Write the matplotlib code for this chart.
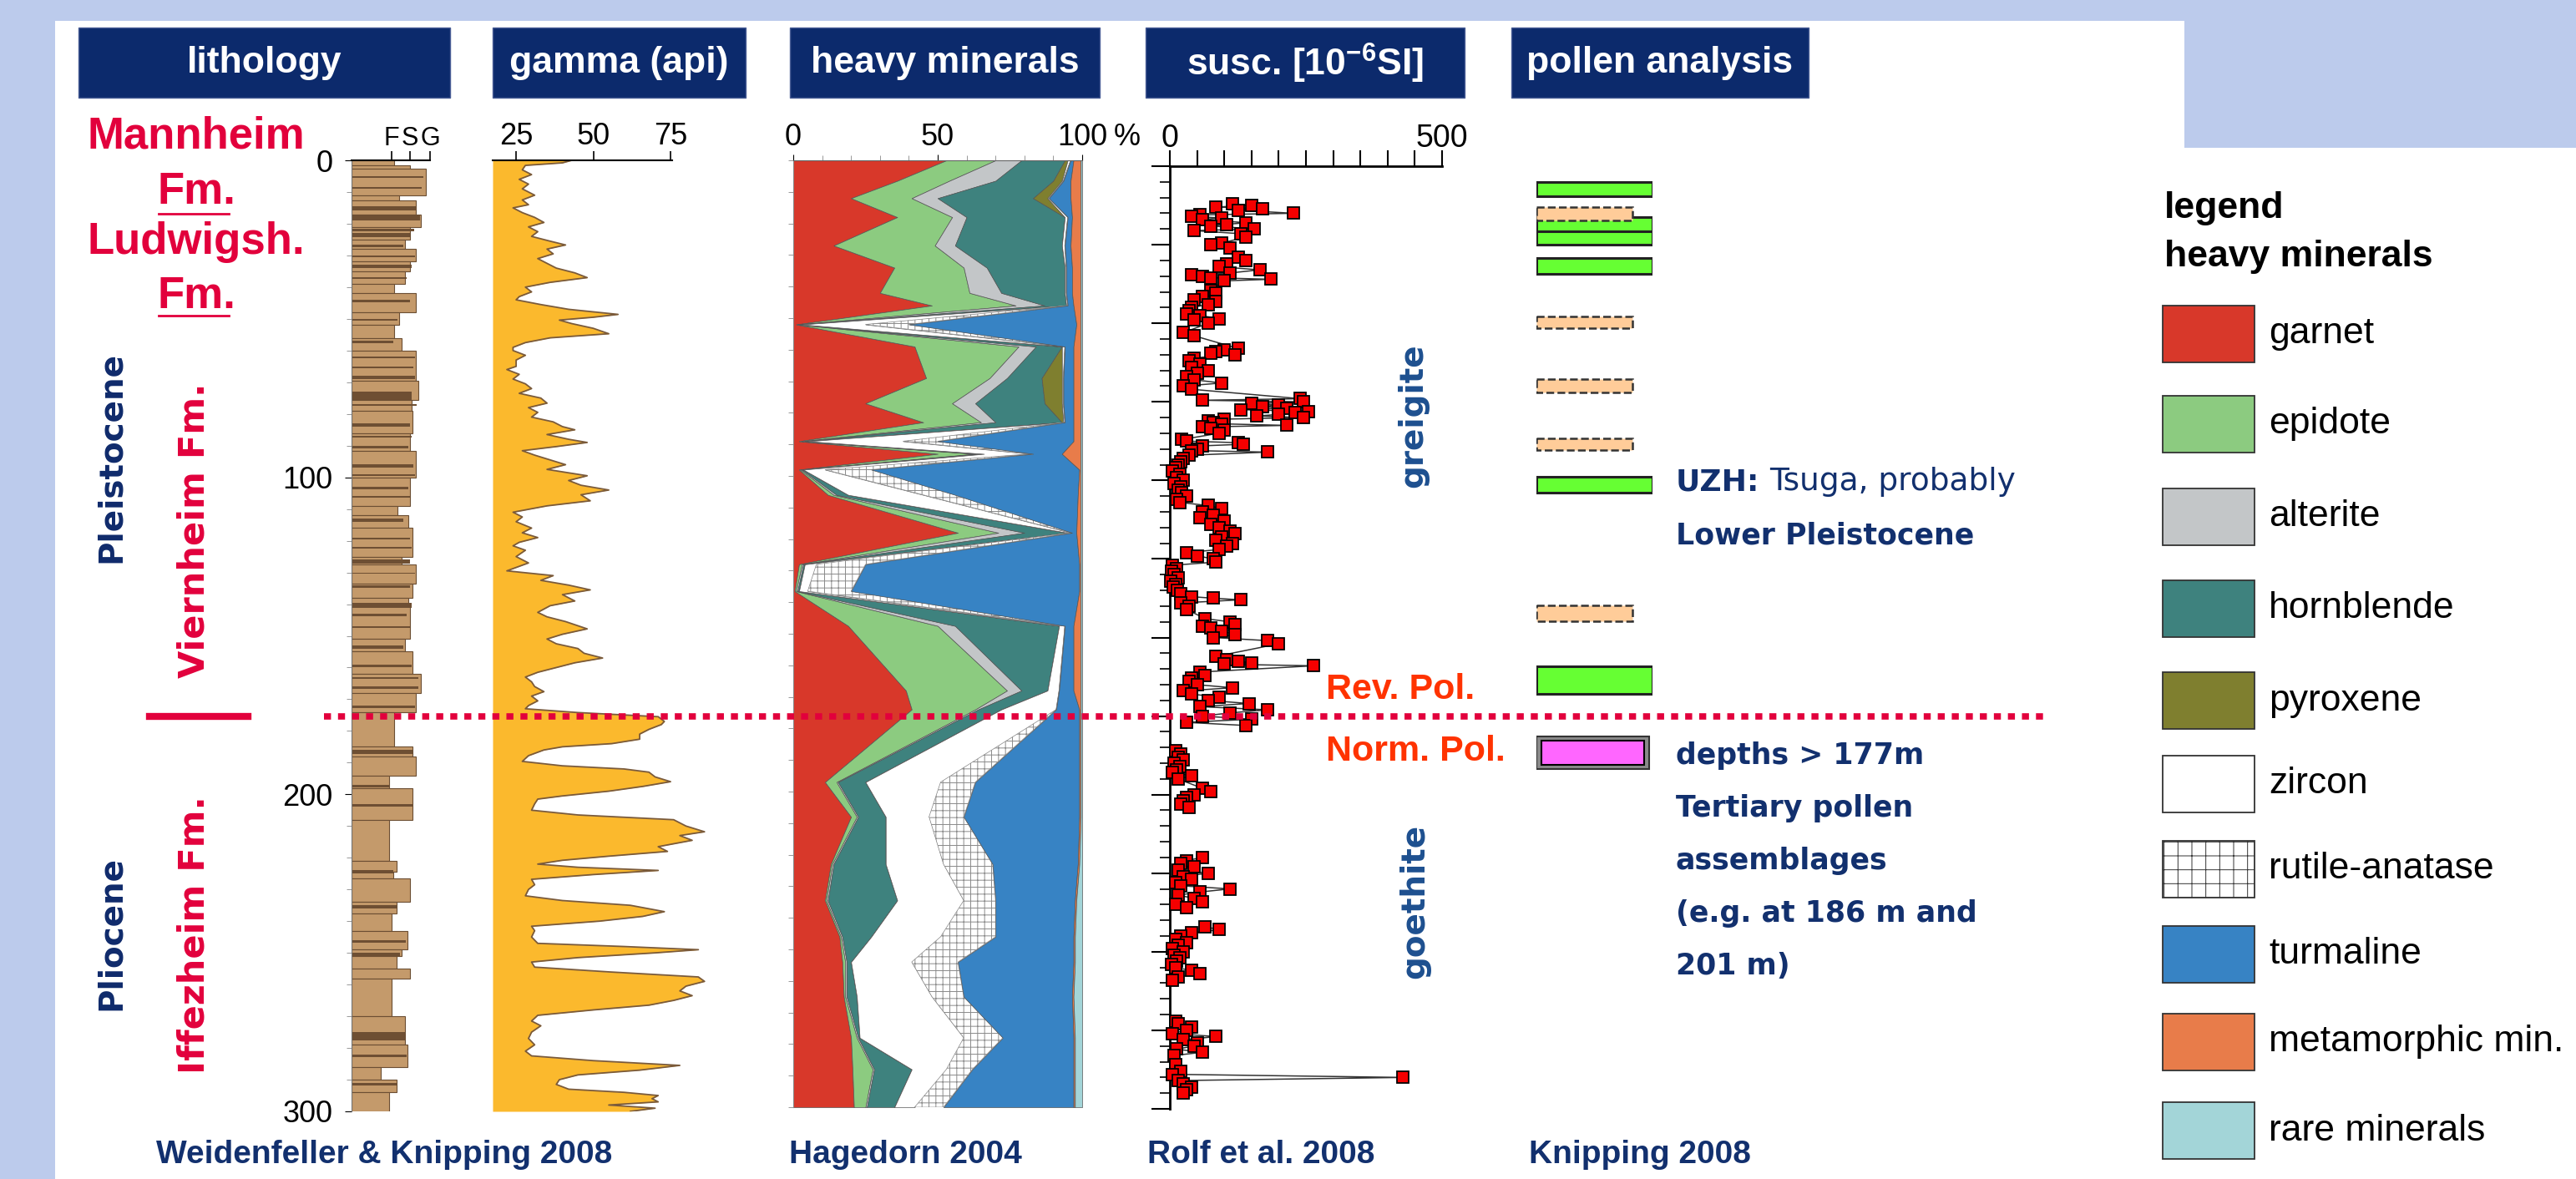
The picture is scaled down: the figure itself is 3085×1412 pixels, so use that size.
import numpy as np
import matplotlib.pyplot as plt
from matplotlib.patches import Polygon, Rectangle
from matplotlib import font_manager

plt.rcParams['font.family'] = ['Liberation Sans', 'DejaVu Sans']
plt.rcParams['mathtext.fontset'] = 'custom'
plt.rcParams['mathtext.rm'] = 'Liberation Sans'
plt.rcParams['mathtext.bf'] = 'Liberation Sans:bold'
plt.rcParams['hatch.linewidth'] = 0.7

avail = {f.name for f in font_manager.fontManager.ttflist}
HAS_NARROW = 'Liberation Sans Narrow' in avail
NARROW = 'Liberation Sans Narrow' if HAS_NARROW else 'Liberation Sans'
TICK_SIZE = 31 if HAS_NARROW else 26

## ---------------- data ----------------
## lithology: layer tops (m) and grain size width (0 clay .. 48 F, 70 S, 94 G)
lith_top = [0, 1.6, 2.6, 11, 12.6, 17, 21, 25, 28, 32, 35, 39, 42, 48, 52, 56, 60, 69.5, 75.6, 79,
            86, 91.6, 100, 109, 112, 116, 125, 127.5, 133.5, 138, 140.6, 151, 155, 162, 168, 174, 185,
            188, 194, 198, 208, 221, 224.5, 226.5, 234, 237.7, 243, 249, 251, 255, 258, 270, 279, 286,
            290, 294]
lith_width = [51, 70, 89, 57, 77, 83, 70, 64, 77, 70, 64, 51, 77, 57, 51, 60, 77, 80, 72, 73,
              70, 77, 70, 55, 68, 73, 60, 77, 73, 68, 70, 64, 73, 83, 77, 51, 73,
              77, 45, 73, 45, 54, 50, 70, 54, 48, 67, 60, 54, 70, 48, 64, 67, 35,
              54, 45]
## thin silt/clay beds drawn darker
clay_top = [5, 8.5, 14.5, 17.5, 21.5, 23, 26.5, 30, 33, 37, 44, 50, 57, 62, 65, 68, 73, 77, 83, 87,
            90, 96, 99, 103, 106, 113, 119, 122, 126, 130, 134, 139.6, 143, 147, 153, 159, 163, 166,
            172, 186, 197, 203, 224, 235, 246, 250, 275, 282, 291]
clay_thick = [0.5, 0.5, 1.2, 1.5, 1.0, 1.2, 0.8, 0.5, 1.0, 0.5, 0.8, 0.5, 0.8, 0.5, 0.5, 1.0, 2.5, 0.5, 1.0, 0.5,
              0.8, 1.0, 0.5, 0.8, 0.5, 1.0, 0.7, 0.5, 1.2, 0.5, 0.8, 1.5, 0.7, 0.5, 1.0, 1.0, 0.5, 0.8,
              0.8, 1.2, 0.8, 0.8, 1.0, 1.0, 0.8, 1.2, 2.5, 0.8, 0.8]
clay_width = [86, 84, 78, 82, 75, 70, 62, 76, 72, 66, 70, 55, 50, 76, 74, 76, 72, 78, 70, 72,
              68, 74, 76, 68, 70, 62, 70, 72, 70, 76, 70, 72, 66, 70, 62, 72, 80, 80,
              76, 73, 45, 73, 50, 54, 65, 58, 64, 66, 54]

## gamma ray log (api)
gamma_depth = [0, 0.8, 1.6, 3, 4.5, 6, 7.5, 9, 11, 12.5, 14, 15, 16.5, 18, 19.6, 21, 22.5, 24, 25.5, 26.7,
               28, 29.5, 31, 32.5, 34, 35.5, 37, 38.5, 40, 41.5, 43, 44, 45.5, 47, 48.6, 49.5, 50.4, 51.5, 53, 54.7,
               56, 57.5, 59, 60, 61.5, 63, 65, 66, 67.5, 69, 70.5, 72, 73.5, 75, 76.6, 78, 79.5, 81, 82.5, 84,
               85, 86.5, 88, 89, 90.3, 91.6, 93, 94.5, 96, 97.5, 99.5, 101, 102.5, 104, 105.5, 107.4, 109, 111, 112.5, 114,
               116, 117.5, 119, 120.5, 121.6, 123, 125, 127, 129.5, 131, 132.5, 134, 135.5, 137, 139, 140.5, 142.6, 144, 145.5, 147.8,
               149.5, 151, 152.5, 154, 155.5, 157, 158.5, 160, 161.5, 163, 164.5, 166, 167.6, 169, 170.5, 172, 173, 174.2, 175.5, 177,
               178, 179.5, 181, 182.6, 184, 185, 186, 187.8, 189.6, 191, 192, 193, 194.5, 196, 197.5, 199, 200.5, 201.5, 203, 205,
               206.5, 208, 210, 211.8, 213, 214.5, 216.5, 218, 219.5, 220.8, 222, 223, 224, 225.3, 226.8, 228.5, 230, 232, 233.5, 235,
               237, 238.5, 240, 241.6, 243, 245, 247, 248, 249, 250, 251.5, 252.9, 254.5, 256, 257.6, 259, 260.5, 262, 263.5, 265,
               266.5, 268, 269.7, 271.5, 273, 275, 277, 279, 281, 282.5, 284, 285.5, 287, 288.5, 290, 291.5, 293, 294, 295, 296,
               297, 298, 299, 300]
gamma_api = [43, 40, 28, 27, 30, 26, 29, 27, 31, 27, 29, 24, 27, 31, 34, 29, 32, 30, 36, 41,
             35, 37, 32, 35, 38, 44, 48, 36, 28, 30, 26, 25, 33, 42, 58, 50, 39, 43, 50, 55,
             36, 28, 24, 24, 28, 25, 25, 22, 26, 24, 28, 30, 26, 33, 35, 29, 32, 30, 37, 40,
             44, 35, 42, 48, 38, 27, 31, 36, 41, 35, 48, 42, 46, 55, 46, 49, 35, 24, 27, 25,
             30, 27, 32, 26, 24, 28, 25, 29, 22, 37, 33, 42, 49, 40, 44, 36, 32, 35, 41, 48,
             40, 35, 38, 45, 47, 53, 44, 38, 32, 28, 30, 31, 34, 30, 32, 29, 28, 45, 71, 73,
             72, 68, 65, 65, 56, 40, 34, 29, 27, 40, 60, 68, 70, 75, 66, 55, 40, 32, 31, 30,
             45, 76, 80, 86, 78, 82, 71, 74, 55, 40, 32, 45, 71, 50, 30, 31, 29, 28, 40, 62,
             73, 66, 52, 30, 31, 30, 32, 60, 84, 70, 45, 30, 31, 55, 84, 86, 80, 78, 82, 76,
             68, 50, 32, 30, 33, 30, 29, 31, 28, 30, 50, 78, 65, 45, 39, 38, 42, 60, 71, 69,
             71, 55, 70, 62]

## heavy minerals (% per sample)
hm_depth = [0, 6.5, 12, 18, 27, 34, 42, 46, 52, 59, 69, 77, 83, 89, 93, 98, 106, 118, 128, 136.5,
            147.5, 168, 174, 197, 208, 223, 234.5, 246, 254, 265, 278, 288, 300]
garnet = [53, 36, 20, 36, 14, 35, 30, 48, 1, 42, 46, 25, 45, 2, 50, 2, 12, 57, 2, 0.5,
          19, 39, 41, 11, 20, 13, 11, 16, 17, 17.5, 20, 20.5, 21]
epidote = [17, 18, 21, 19, 35, 24, 31, 29, 0.5, 36, 22, 30, 20, 1, 13, 0.5, 2, 14, 1, 0.5,
           31, 35, 22, 4, 2, 0.5, 0.5, 0.5, 1, 0.5, 2, 7, 4]
alterite = [9, 16, 9, 5, 7, 8, 11, 10, 0.5, 6, 6, 8, 5, 1, 1, 0.5, 1, 9, 0.5, 0.5,
            6, 5, 1, 0.5, 0.5, 0.5, 0.5, 0.5, 0.5, 0.5, 0.5, 0.5, 0.5]
hornblende = [15, 20, 33, 34, 37, 27, 22, 7.5, 1, 9, 12, 24, 23, 1, 2, 0.5, 4, 15, 0.5, 0.5,
              36, 9, 8, 9.5, 9.5, 18, 24, 10, 1.5, 3.5, 0.5, 13, 9.5]
pyroxene = [1, 3, 5, 0, 0, 0, 0, 0, 0, 0, 7, 6, 0.5, 0, 0, 0, 0, 0, 0, 0,
            0, 0, 0, 0, 0, 0, 0, 0, 0, 0, 0, 0, 0]
zircon = [1, 0.5, 0.5, 1, 1, 0.5, 0.5, 0.5, 22, 1, 0.5, 0.5, 0.5, 33, 16, 7.5, 26, 1, 4, 3,
          2, 4, 19, 26, 15, 20, 23, 24, 21, 26, 36, 12, 7]
rutile = [0, 0, 0, 0, 0, 0, 0, 0, 15, 0, 0, 0, 0, 12, 1, 16, 11, 0.5, 17, 15,
          0, 0, 0, 12, 12, 17, 11, 19, 16, 11, 13.5, 9, 10]
turmaline = [1, 2.5, 7.5, 1.5, 2, 2, 2, 2, 58, 3, 3.5, 3.5, 3, 47, 10, 72, 42.5, 1.5, 74, 79,
             3, 5, 8, 36, 40, 29.5, 27.5, 27, 40, 37.5, 24.5, 35, 45]
metamorphic = [2.5, 3.5, 3.5, 3, 3.5, 3, 3, 2.5, 1.5, 2.5, 2.5, 2.5, 2.5, 2.5, 6.5, 0.5, 1, 1.5, 0.5, 0.5,
               2.5, 2.5, 0.5, 0.5, 0.5, 0.5, 0.5, 0.5, 0.5, 0.5, 0.5, 0.5, 0.5]
rare = [0.5, 0.5, 0.5, 0.5, 0.5, 0.5, 0.5, 0.5, 0.5, 0.5, 0.5, 0.5, 0.5, 0.5, 0.5, 0.5, 0.5, 0.5, 0.5, 0.5,
        0.5, 0.5, 0.5, 0.5, 0.5, 1, 2, 2.5, 2.5, 3, 2.5, 2.5, 2.5]

## magnetic susceptibility (10^-6 SI)
susc_depth = [12, 12.5, 13, 13.5, 14, 15, 15.5, 16, 16.5, 17, 18, 18.5, 19, 20, 20.5, 21.5, 22.5,
              24.5, 25, 26,
              29, 30, 31, 32, 33, 34, 34.5, 35, 35.5, 36, 36.5,
              39.5, 40.5, 41.5, 42.5, 43, 44, 45, 46, 47, 47.5, 48.5, 49, 50,
              53, 54,
              58, 58.5, 59, 59.5, 60, 61, 62, 63, 64, 65, 66, 67, 68, 69, 70, 71,
              74, 74.5, 75, 75.5, 76, 76.5, 77, 77.5, 78, 78.5, 79, 79.5, 80, 80.5, 81, 81.5, 82, 82.5, 83, 83.5, 84, 85,
              87, 87.5, 88, 88.5, 89, 90, 90.5, 91, 92, 93, 94, 95,
              96, 97, 98, 99, 100, 101, 102, 103, 104, 105, 106, 107,
              108, 109, 110, 111, 112, 113, 114, 115, 116, 117, 118, 119, 120, 121, 122, 123, 124, 125, 126,
              127, 128, 129, 130, 131, 132, 133, 134, 135, 136,
              137, 137.5, 138, 139, 140, 141,
              144, 145, 146, 146.5, 147, 148, 149, 150, 151, 152,
              156, 157, 157.5, 158, 158.5, 159,
              161, 162, 163, 164, 165, 166, 167, 168, 169, 170, 171, 172, 173, 174, 175, 176, 177, 178,
              186, 187, 188, 189, 190, 191, 192, 193, 194, 195,
              198, 199, 200, 201, 202, 203, 204,
              220, 221, 222, 223, 224, 225, 226, 227, 228, 229, 230, 231, 232, 233, 234, 235, 236,
              242, 243, 244, 245, 246, 247, 248, 249, 250, 251, 252, 253, 254, 255, 256, 257, 258, 259,
              272, 273, 274, 275, 276, 277, 278, 279, 280, 281, 282, 283,
              286, 288, 289, 290, 291, 292, 293, 294, 295]
susc_value = [115, 150, 85, 170, 125, 227, 55, 40, 95, 60, 140, 105, 75, 155, 45, 130, 140,
              95, 75, 110,
              125, 140, 105, 90, 165, 110, 40, 60, 75, 186, 100,
              75, 85, 60, 45, 85, 70, 40, 35, 30, 55, 90, 45, 70,
              25, 45,
              125, 100, 85, 75, 120, 45, 35, 55, 40, 70, 50, 30, 45, 95, 25, 40,
              240, 60, 245, 150, 200, 170, 215, 130, 255, 230, 200, 160, 245, 100, 70, 80, 95, 215, 60, 75, 100, 90,
              22, 30, 125, 135, 60, 50, 40, 180, 35, 25, 20, 15,
              10, 5, 18, 12, 25, 8, 20, 15, 22, 30, 12, 18,
              70, 95, 60, 80, 55, 100, 75, 90, 110, 120, 95, 85, 115, 105, 90, 30, 50, 80, 85,
              5, 12, 3, 8, 15, 2, 10, 6, 14, 20,
              40, 80, 130, 20, 35, 30,
              65, 110, 120, 60, 75, 95, 120, 80, 180, 200,
              85, 105, 125, 150, 100, 264,
              55, 65, 40, 35, 50, 115, 25, 40, 90, 70, 145, 55, 180, 110, 60, 150, 30, 140,
              10, 20, 15, 25, 8, 18, 12, 5, 40, 15,
              60, 75, 45, 30, 25, 20, 35,
              60, 30, 20, 45, 15, 70, 25, 40, 10, 20, 110, 55, 15, 45, 60, 10, 30,
              65, 90, 40, 20, 10, 30, 15, 5, 25, 8, 18, 12, 3, 10, 40, 55, 15, 5,
              10, 15, 40, 30, 5, 85, 25, 50, 45, 12, 60, 8,
              10, 20, 5, 428, 15, 25, 40, 30, 25]

## pollen analysis intervals (top, bottom) in m
pollen_green = [(6.8, 11.3), (17.9, 22.4), (22.4, 26.6), (30.8, 35.8), (99.8, 104.8), (159.6, 168.3)]
pollen_uncertain = [(14.7, 19.0), (49.2, 52.9), (69.0, 73.2), (87.7, 91.4), (140.4, 145.4)]
pollen_tertiary = [(181.7, 192.0)]

boundary_depth = 175.5   # Pleistocene / Pliocene, Rev./Norm. polarity

mineral_names = ['garnet', 'epidote', 'alterite', 'hornblende', 'pyroxene', 'zircon',
                 'rutile-anatase', 'turmaline', 'metamorphic min.', 'rare minerals']
mineral_colors = ['#D8382A', '#8CCB80', '#C3C6C8', '#3E827E', '#7F7F2F', '#FFFFFF',
                  '#FFFFFF', '#3783C4', '#E87C4A', '#A3D5D8']

## ---------------- figure ----------------
W, H = 3085, 1412
NAVY = '#0C2A6C'
CRIMSON = '#E2003C'
TEXTBLUE = '#12306E'
fig = plt.figure(figsize=(W / 100, H / 100), dpi=100)
fig.patch.set_facecolor('#BCCBEC')


def box(x0, y0, x1, y1):
    return [x0 / W, 1 - y1 / H, (x1 - x0) / W, (y1 - y0) / H]


bg = fig.add_axes([0, 0, 1, 1], zorder=0)
bg.set_xlim(0, W)
bg.set_ylim(H, 0)
bg.axis('off')
bg.add_patch(Polygon([(66, 25), (2616, 25), (2616, 177), (W, 177), (W, H), (66, H)],
                     closed=True, fc='white', ec='none'))

## headers
headers = [('lithology', 94, 539), ('gamma (api)', 590, 893), ('heavy minerals', 946, 1317),
           (r'susc. [10$^{\mathbf{-6}}$SI]', 1372, 1754), ('pollen analysis', 1810, 2166)]
for label, x0, x1 in headers:
    bg.add_patch(Rectangle((x0, 33), x1 - x0, 84, fc=NAVY, ec='#4a5e96', lw=1))
    bg.text((x0 + x1) / 2, 76, label, color='white', fontsize=32, fontweight='bold',
            ha='center', va='center')

## bottom references
for label, x in [('Weidenfeller & Knipping 2008', 187), ('Hagedorn 2004', 945),
                 ('Rolf et al. 2008', 1374), ('Knipping 2008', 1831)]:
    bg.text(x, 1383, label, color=TEXTBLUE, fontsize=28, fontweight='bold', ha='left', va='center')

## formation names
for label, y in [('Mannheim', 163), ('Fm.', 230), ('Ludwigsh.', 290), ('Fm.', 355)]:
    bg.text(235, y, label, color=CRIMSON, fontsize=38, fontweight='bold', ha='center', va='center')
for y in [256, 378]:
    bg.plot([190, 274], [y, y], color=CRIMSON, lw=2)
rot = dict(rotation=90, fontweight='bold', family='DejaVu Sans', ha='center', va='center')
bg.text(133, 547, 'Pleistocene', color='#0F2A6B', fontsize=28, **rot)
bg.text(133, 1118, 'Pliocene', color='#0F2A6B', fontsize=28, **rot)
bg.text(233, 635, 'Viernheim Fm.', color=CRIMSON, fontsize=31, **rot)
bg.text(233, 1120, 'Iffezheim Fm.', color=CRIMSON, fontsize=31, **rot)
bg.text(1692, 498, 'greigite', color='#1D4F8F', fontsize=28, **rot)
bg.text(1694, 1079, 'goethite', color='#1D4F8F', fontsize=28, **rot)
bg.text(1588, 826, 'Rev. Pol.', color='#FF3300', fontsize=31, fontweight='bold', ha='left', va='center')
bg.text(1588, 900, 'Norm. Pol.', color='#FF3300', fontsize=31, fontweight='bold', ha='left', va='center')

## pollen notes
renderer = fig.canvas.get_renderer()
t = bg.text(2007, 577, 'UZH:', color=TEXTBLUE, fontsize=26, fontweight='bold',
            family='DejaVu Sans', ha='left', va='center')
x_end = bg.transData.inverted().transform((t.get_window_extent(renderer).x1, 0))[0]
bg.text(x_end + 12, 577, 'Tsuga, probably', color=TEXTBLUE, fontsize=27,
        family='DejaVu Sans', ha='left', va='center')
for label, y in [('Lower Pleistocene', 641), ('depths > 177m', 905), ('Tertiary pollen', 968),
                 ('assemblages', 1031), ('(e.g. at 186 m and', 1094), ('201 m)', 1157)]:
    bg.text(2007, y, label, color=TEXTBLUE, fontsize=25, fontweight='bold',
            family='DejaVu Sans', ha='left', va='center')

## legend
bg.text(2592, 250, 'legend', fontsize=32, fontweight='bold', ha='left', va='center')
bg.text(2592, 308, 'heavy minerals', fontsize=32, fontweight='bold', ha='left', va='center')
legend_tops = [366, 474, 585, 695, 805, 905, 1007, 1109, 1214, 1320]
for name, color, top in zip(mineral_names, mineral_colors, legend_tops):
    hatch = '+' if name == 'rutile-anatase' else None
    bg.add_patch(Rectangle((2590, top), 110, 68, fc=color, ec='#333333', lw=1.3, hatch=hatch))
    bg.text(2717, top + 34, name, fontsize=32, ha='left', va='center')

## ---------------- lithology ----------------
ax = fig.add_axes(box(421, 192, 521, 1331), zorder=2)
ax.patch.set_alpha(0)
thick = np.diff(np.append(lith_top, 300))
ax.barh(lith_top, lith_width, height=thick, align='edge', color='#C49A6B', edgecolor='#6B4E33', lw=0.8)
ax.barh(clay_top, clay_width, height=clay_thick, align='edge', color='#6E4F33', lw=0)
ax.set_xlim(0, 100)
ax.set_ylim(300, 0)
for s in ['right', 'bottom']:
    ax.spines[s].set_visible(False)
ax.spines['top'].set_bounds(0, 94)
ax.spines['top'].set_linewidth(1.5)
ax.spines['left'].set_color('#777777')
ax.xaxis.tick_top()
ax.set_xticks([48, 70, 94], ['F', 'S', 'G'])
ax.tick_params(axis='x', length=8, width=1.2, labelsize=TICK_SIZE - 4, pad=0, labelfontfamily=NARROW)
ax.set_yticks([0, 100, 200, 300])
ax.set_yticks(np.arange(0, 301, 10), minor=True)
ax.tick_params(axis='y', which='major', length=6, labelsize=TICK_SIZE, pad=10, labelfontfamily=NARROW)
ax.tick_params(axis='y', which='minor', length=4, color='#888888')

## ---------------- gamma ----------------
ax = fig.add_axes(box(590, 192, 870, 1331), zorder=2)
ax.patch.set_alpha(0)
ax.fill_betweenx(gamma_depth, 17.4, gamma_api, color='#FBB92D', lw=0)
ax.plot(gamma_api, gamma_depth, color='#7A5A3A', lw=1.3)
ax.set_xlim(17.4, 93.1)
ax.set_ylim(300, 0)
for s in ['right', 'bottom', 'left']:
    ax.spines[s].set_visible(False)
ax.spines['top'].set_bounds(17.4, 75.5)
ax.spines['top'].set_linewidth(1.5)
ax.xaxis.tick_top()
ax.set_xticks([25, 50, 75])
ax.set_yticks([])
ax.tick_params(axis='x', length=8, width=1.2, labelsize=TICK_SIZE, pad=0, labelfontfamily=NARROW)

## ---------------- heavy minerals ----------------
ax = fig.add_axes(box(950, 192, 1296, 1326), zorder=2)
ax.patch.set_alpha(0)
series = [garnet, epidote, alterite, hornblende, pyroxene, zircon, rutile, turmaline, metamorphic, rare]
lower = np.zeros(len(hm_depth))
for name, vals, color in zip(mineral_names, series, mineral_colors):
    upper = lower + np.array(vals)
    if name == 'rutile-anatase':
        ax.fill_betweenx(hm_depth, lower, upper, facecolor='white', edgecolor='#8a8a8a', hatch='++', lw=0.5)
    else:
        ax.fill_betweenx(hm_depth, lower, upper, facecolor=color, edgecolor='#555555', lw=0.5)
    lower = upper
ax.set_xlim(0, 100)
ax.set_ylim(300, 0)
for s in ['right', 'bottom']:
    ax.spines[s].set_visible(False)
ax.spines['top'].set_color('#666666')
ax.spines['left'].set_color('#888888')
ax.xaxis.tick_top()
ax.set_xticks([0, 50, 100])
ax.set_xticks(np.arange(0, 101, 10), minor=True)
ax.set_yticks([])
ax.set_yticks(np.arange(0, 301, 10), minor=True)
ax.tick_params(axis='x', which='major', length=5, labelsize=TICK_SIZE, pad=2, labelfontfamily=NARROW)
ax.tick_params(which='minor', length=4, color='#888888')
bg.text(1334, 165, '%', fontsize=TICK_SIZE, family=NARROW, ha='left', va='center')

## ---------------- susceptibility ----------------
ax = fig.add_axes(box(1401, 199, 1727, 1328), zorder=2)
ax.patch.set_alpha(0)
d = np.array(susc_depth)
v = np.array(susc_value)
breaks = np.where(np.diff(d) > 5.5)[0] + 1
for seg_d, seg_v in zip(np.split(d, breaks), np.split(v, breaks)):
    ax.plot(seg_v, seg_d, color='#333333', lw=1.1, zorder=2, clip_on=False)
ax.plot(v, d, 's', ms=10, mfc='#F50000', mec='black', mew=1.3, ls='none', zorder=3, clip_on=False)
ax.set_xlim(0, 500)
ax.set_ylim(300, 0)
for s in ['right', 'bottom']:
    ax.spines[s].set_visible(False)
ax.spines['top'].set_linewidth(2)
ax.spines['left'].set_linewidth(2)
ax.xaxis.tick_top()
ax.set_xticks(np.arange(0, 501, 50), ['0'] + [''] * 9 + ['500'])
ax.tick_params(axis='x', length=13.5, width=1.5, labelsize=TICK_SIZE + 1, pad=-3, labelfontfamily=NARROW)
ax.set_yticks(np.arange(0, 301, 25))
ax.set_yticks(np.arange(0, 301, 5), minor=True)
ax.tick_params(axis='y', which='major', length=16, width=1.5, labelleft=False)
ax.tick_params(axis='y', which='minor', length=8.5, width=1.2)

## ---------------- pollen ----------------
ax = fig.add_axes(box(1840, 192, 1979, 1331), zorder=2)
ax.axis('off')
ax.set_xlim(0, 1)
ax.set_ylim(300, 0)
for top, bot in pollen_green:
    ax.barh(top, 1, height=bot - top, align='edge', color='#66FF33', edgecolor='#222222', lw=2.2)
for top, bot in pollen_uncertain:
    ax.barh(top, 0.83, height=bot - top, align='edge', color='#FFCC99', edgecolor='#333333', lw=1.8, ls='--')
for top, bot in pollen_tertiary:
    ax.barh(top, 0.97, height=bot - top, align='edge', color='#8a8a8a', edgecolor='#333333', lw=1.5)
    ax.barh(top + 1.3, 0.88, height=bot - top - 2.6, left=0.045, align='edge',
            color='#FF66FF', edgecolor='black', lw=1.5)

## ---------------- boundary line on top ----------------
ov = fig.add_axes([0, 0, 1, 1], zorder=5)
ov.set_xlim(0, W)
ov.set_ylim(H, 0)
ov.axis('off')
ov.patch.set_alpha(0)
y_b = 192 + boundary_depth * (1331 - 192) / 300
ov.plot([388, 2447], [y_b, y_b], color=CRIMSON, lw=5.5, ls=(0, (1.1, 1.1)))
ov.plot([179, 297], [y_b, y_b], color=CRIMSON, lw=6)

fig.savefig('out.png', dpi=100, facecolor=fig.get_facecolor())
